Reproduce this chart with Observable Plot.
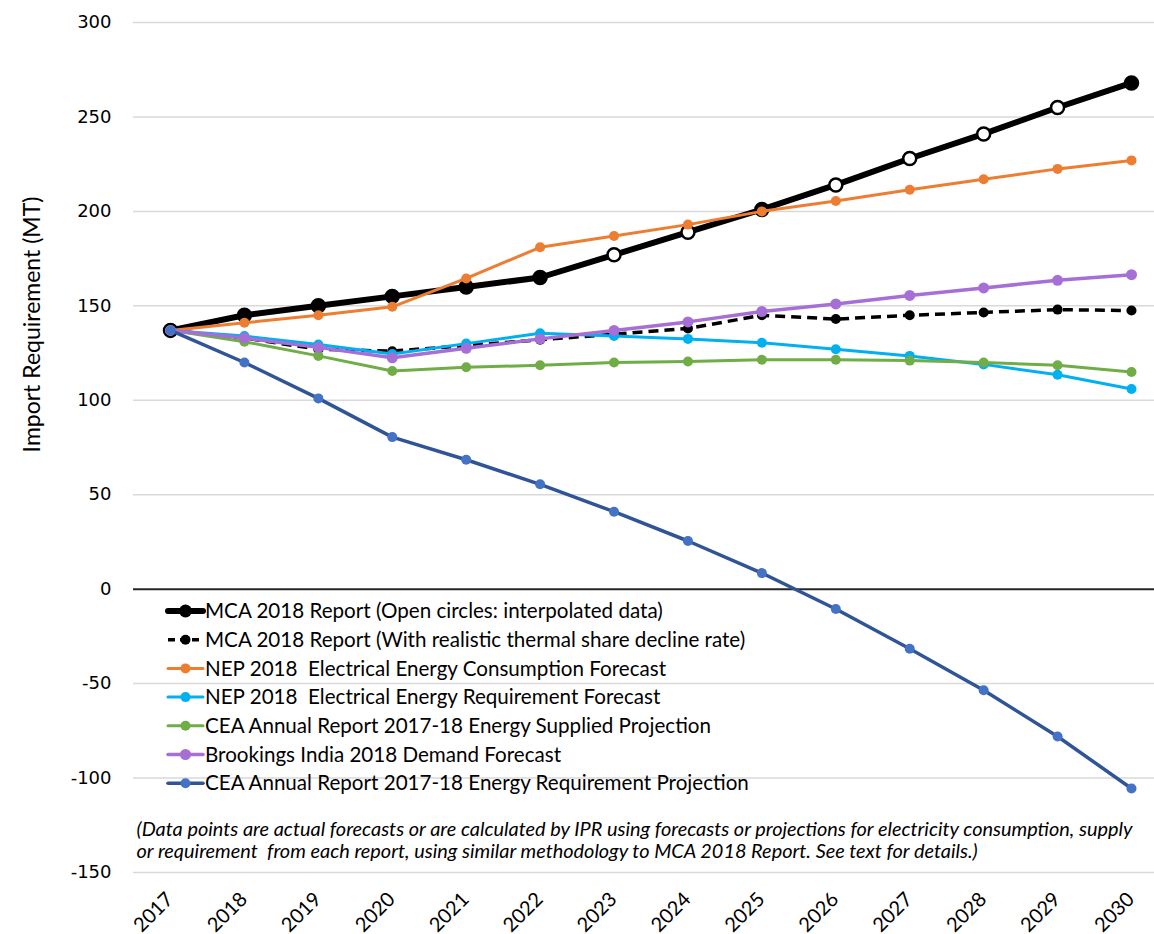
<!DOCTYPE html>
<html><head><meta charset="utf-8">
<script src="https://cdn.jsdelivr.net/npm/d3@7"></script>
<script src="https://cdn.jsdelivr.net/npm/@observablehq/plot@0.6"></script>
<style>
body{margin:0;background:#fff}
#chart{width:1154px;height:934px}
</style>
</head><body><div id="chart"></div>
<script>
// ---------- data ----------
const years = [2017,2018,2019,2020,2021,2022,2023,2024,2025,2026,2027,2028,2029,2030];
const mcaReport      = [137,145,150,155,160,165,177,189,201,214,228,241,255,268];
const mcaInterpolated= [false,false,false,false,false,false,true,true,false,true,true,true,true,false];
const mcaRealistic   = [137,133,127,126,129,132,135,138,145,143,145,146.5,148,147.5];
const nepConsumption = [137,141,145,149.5,164.5,181,187,193,200,205.5,211.5,217,222.5,227];
const nepRequirement = [137,134,129.5,124.5,130,135.5,134,132.5,130.5,127,123.5,119,113.5,106];
const ceaSupplied    = [137,131,123.5,115.5,117.5,118.5,120,120.5,121.5,121.5,121,120,118.5,115];
const brookings      = [137,133,128,122.5,127.5,132.5,137,141.5,147,151,155.5,159.5,163.5,166.5];
const ceaRequirement = [137,120,101,80.5,68.5,55.5,41,25.5,8.5,-10.5,-31.5,-53.5,-78,-105.5];

const seriesNames = [
  "MCA 2018 Report (Open circles: interpolated data)",
  "MCA 2018 Report (With realistic thermal share decline rate)",
  "NEP 2018  Electrical Energy Consumption Forecast",
  "NEP 2018  Electrical Energy Requirement Forecast",
  "CEA Annual Report 2017-18 Energy Supplied Projection",
  "Brookings India 2018 Demand Forecast",
  "CEA Annual Report 2017-18 Energy Requirement Projection"
];
const seriesValues = [mcaReport, mcaRealistic, nepConsumption, nepRequirement, ceaSupplied, brookings, ceaRequirement];
const yTicks = [-150,-100,-50,0,50,100,150,200,250,300];
const yTitle = "Import Requirement (MT)";
const note = "(Data points are actual forecasts or are calculated by IPR using forecasts or projections for electricity consumption, supply\nor requirement  from each report, using similar methodology to MCA 2018 Report. See text for details.)";

// ---------- styles ----------
const styles = [
  {stroke:"#000000", dotFill:"#000000", width:6, r:6.5, dash:null},
  {stroke:"#000000", dotFill:"#000000", width:3.5, r:5, dash:"10,6"},
  {stroke:"#ED7D31", dotFill:"#ED7D31", width:3, r:5, dash:null},
  {stroke:"#00B0F0", dotFill:"#00B0F0", width:3, r:5, dash:null},
  {stroke:"#70AD47", dotFill:"#70AD47", width:3, r:5, dash:null},
  {stroke:"#A66FD6", dotFill:"#A66FD6", width:3.5, r:5.5, dash:null},
  {stroke:"#2F5597", dotFill:"#4472C4", width:3.5, r:5, dash:null}
];

const rows = seriesNames.map((name, s) => years.map((yr, i) => ({
  series: s, name, year: yr, value: seriesValues[s][i],
  open: s === 0 ? mcaInterpolated[i] : false
})));

const W = 1154, H = 934;
const marginLeft = 133, marginTop = 22, marginBottom = 62, marginRight = 0;
const FONT = "Lato, 'Open Sans', sans-serif";

const marks = [
  Plot.ruleY(yTicks.filter(d => d !== 0), {y: d => d, stroke: "#d9d9d9", strokeWidth: 1.5}),
  Plot.ruleY([0], {y: d => d, stroke: "#262626", strokeWidth: 2}),
  Plot.text(yTicks, {y: d => d, frameAnchor: "left", text: d => String(d), textAnchor: "end", dx: -22,
    fontSize: 18, fontFamily: "'DejaVu Sans', Verdana, sans-serif", fill: "#000"}),
  Plot.text(years, {x: d => d, frameAnchor: "bottom", text: d => String(d), rotate: -45, textAnchor: "end",
    lineAnchor: "bottom", dx: 4, dy: 28, fontSize: 20, fontFamily: FONT, fill: "#000"}),
  Plot.text([yTitle], {frameAnchor: "left", textAnchor: "middle", rotate: -90, dx: -101, dy: -123,
    fontSize: 23, fontFamily: FONT, fill: "#000"}),
  Plot.text([note], {frameAnchor: "bottom-left", textAnchor: "start", lineAnchor: "top", dx: 3, dy: -52,
    fontSize: 19.9, fontStyle: "italic", fontFamily: FONT, lineHeight: 1.1, fill: "#000"})
];

rows.forEach((data, s) => {
  const st = styles[s];
  marks.push(Plot.line(data, {x: "year", y: "value", stroke: st.stroke, strokeWidth: st.width,
    strokeDasharray: st.dash, strokeLinejoin: "round", strokeLinecap: st.dash ? "butt" : "round"}));
  if (s === 0) {
    marks.push(Plot.dot(data, {x: "year", y: "value", r: st.r, fill: d => d.open ? "#ffffff" : "#000000",
      stroke: "#000", strokeWidth: 2.5}));
  } else {
    marks.push(Plot.dot(data, {x: "year", y: "value", r: st.r, fill: st.dotFill, stroke: "none"}));
  }
});

const chart = Plot.plot({
  width: W, height: H,
  marginLeft, marginTop, marginBottom, marginRight,
  x: {type: "linear", domain: [2017, 2030], range: [170, 1131], axis: null},
  y: {domain: [-150, 300], axis: null},
  style: {fontFamily: FONT, background: "#fff", overflow: "visible"},
  marks
});
document.getElementById("chart").appendChild(chart);

// ---------- legend (inside plot area) ----------
const svg = d3.select(chart);
const lg = svg.append("g").attr("font-family", FONT).attr("font-size", 20.6).attr("text-anchor", "start");
const rowY0 = 611, rowStep = 28.7, sx1 = 168, sx2 = 203, tx = 205;
seriesNames.forEach((name, s) => {
  const st = styles[s];
  const y = rowY0 + s * rowStep;
  const g = lg.append("g").attr("transform", `translate(0,${y})`);
  g.append("line").attr("x1", sx1).attr("x2", sx2).attr("y1", 0).attr("y2", 0)
    .attr("stroke", st.stroke).attr("stroke-width", st.width)
    .attr("stroke-dasharray", st.dash ? "7,5" : null).attr("stroke-linecap", st.dash ? "butt" : "round");
  g.append("circle").attr("cx", (sx1 + sx2) / 2).attr("cy", 0).attr("r", st.r)
    .attr("fill", st.dotFill);
  g.append("text").attr("x", tx).attr("y", 0).attr("dy", "0.35em").attr("text-anchor", "start")
    .attr("fill", "#000").text(name);
});
</script>
</body></html>
